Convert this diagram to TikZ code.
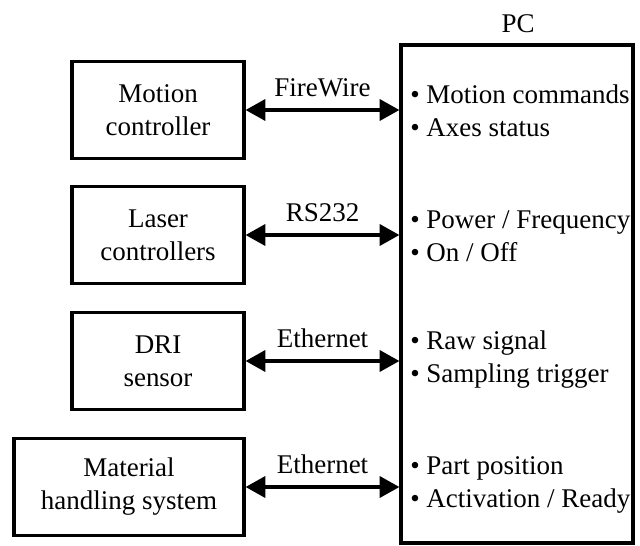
\documentclass[tikz,border=0pt]{standalone}
\usepackage{fontspec}
\setmainfont{Liberation Serif}
\usepackage{tikz}
\usetikzlibrary{positioning, arrows.meta}
\newcommand{\txtsize}{\fontsize{19.2pt}{23.5pt}\selectfont}

\tikzset{
    unit/.style={draw=black, line width=2.3pt, minimum height=2.425cm, align=center, font=\txtsize, inner sep=2pt},
    pcbox/.style={draw=black, line width=2.3pt, minimum width=5.8cm, minimum height=12.45cm},
    link/.style={line width=2.3pt, {Triangle[length=14pt,width=15pt]}-{Triangle[length=14pt,width=15pt]}},
    iface/.style={anchor=west, align=left, font=\txtsize, inner sep=0pt},
    proto/.style={above=8pt, font=\txtsize, inner sep=0pt}
}

\begin{document}
\begin{tikzpicture}
    \useasboundingbox (0,0) rectangle (16,-13.625);

    \node[pcbox] (pc) at (12.925,-7.35) {};
    \node[font=\txtsize] (pclabel) at (12.95,-0.6) {PC};

    \node[unit, minimum width=4.3cm] (motion) at (3.95,-2.75) {Motion\\controller};
    \node[unit, minimum width=4.3cm] (laser) at (3.95,-5.875) {Laser\\controllers};
    \node[unit, minimum width=4.3cm] (dri) at (3.95,-9.025) {DRI\\sensor};
    \node[unit, minimum width=5.75cm] (mhs) at (3.225,-12.175) {Material\\handling system};

    \path [link] (motion.east) edge node[proto] {FireWire} (motion.east -| pc.west);
    \path [link] (laser.east) edge node[proto] {RS232} (laser.east -| pc.west);
    \path [link] (dri.east) edge node[proto] {Ethernet} (dri.east -| pc.west);
    \path [link] (mhs.east) edge node[proto] {Ethernet} (mhs.east -| pc.west);

    \node[iface] (motionsig) at (10.25,-2.78) {\textbullet{} Motion commands\\\textbullet{} Axes status};
    \node[iface] (lasersig) at (10.25,-5.9) {\textbullet{} Power / Frequency\\\textbullet{} On / Off};
    \node[iface] (drisig) at (10.25,-9.0) {\textbullet{} Raw signal\\\textbullet{} Sampling trigger};
    \node[iface] (mhssig) at (10.25,-12.12) {\textbullet{} Part position\\\textbullet{} Activation / Ready};

\end{tikzpicture}
\end{document}
